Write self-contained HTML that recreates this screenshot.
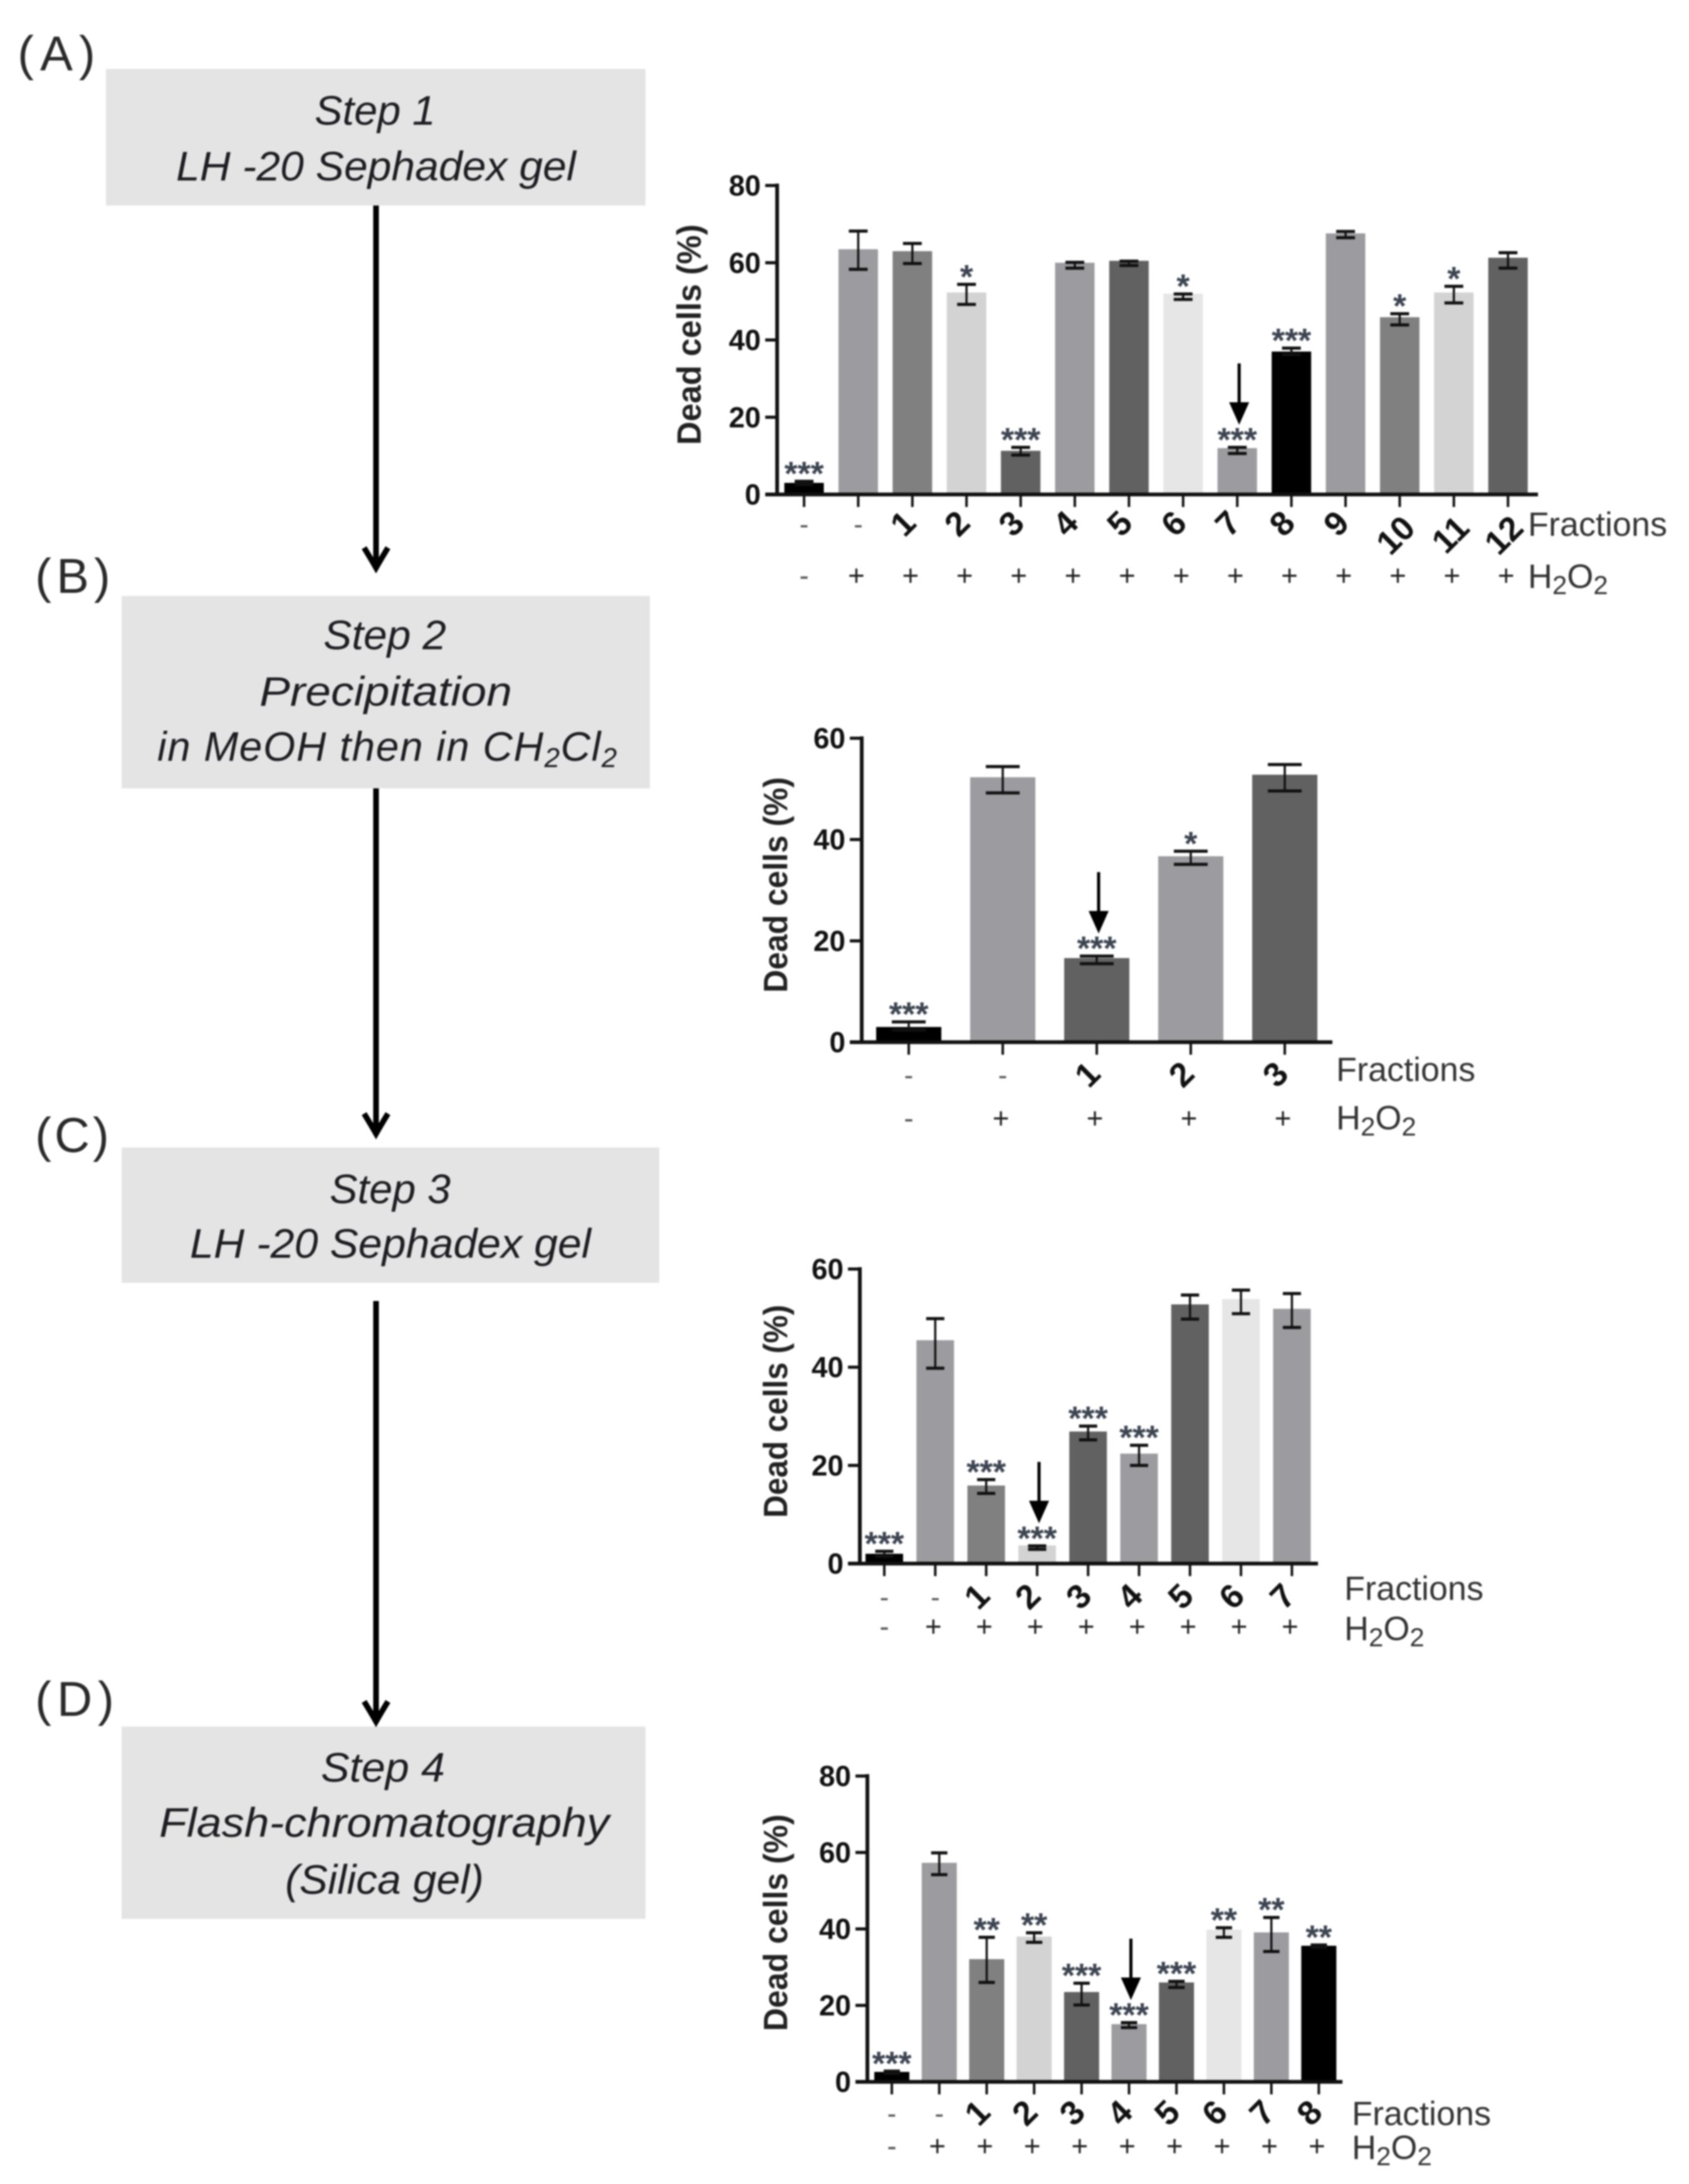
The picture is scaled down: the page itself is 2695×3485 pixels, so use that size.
<!DOCTYPE html>
<html lang="en">
<head>
<meta charset="utf-8">
<title>Bioguided fractionation steps and dead cell percentages</title>
<style>
html,body{margin:0;padding:0;background:#fff;width:2695px;height:3485px;overflow:hidden}
svg{display:block;filter:blur(1.4px)}
text{font-family:"Liberation Sans",sans-serif}
.step{font-style:italic;font-size:66px;fill:#1d1d22}
.panel{font-size:78px;fill:#2a2a2a}
</style>
</head>
<body>
<svg id="fig" xmlns="http://www.w3.org/2000/svg" width="2695" height="3485" viewBox="0 0 2695 3485">
<rect width="2695" height="3485" fill="#fff"/>

<g>
<text class="panel" x="28" y="112" textLength="124" lengthAdjust="spacing">(A)</text>
<text class="panel" x="56" y="946" textLength="120" lengthAdjust="spacing">(B)</text>
<text class="panel" x="56" y="1838" textLength="118" lengthAdjust="spacing">(C)</text>
<text class="panel" x="56" y="2738" textLength="126" lengthAdjust="spacing">(D)</text>

<rect x="169" y="110" width="861" height="218" fill="#e4e4e4"/>
<text class="step" x="502" y="199" textLength="193" lengthAdjust="spacingAndGlyphs">Step 1</text>
<text class="step" x="281" y="288" textLength="638" lengthAdjust="spacingAndGlyphs">LH -20 Sephadex gel</text>

<rect x="194" y="951" width="843" height="307" fill="#e4e4e4"/>
<text class="step" x="516" y="1036" textLength="196" lengthAdjust="spacingAndGlyphs">Step 2</text>
<text class="step" x="414" y="1126" textLength="403" lengthAdjust="spacingAndGlyphs">Precipitation</text>
<text class="step" x="251" y="1214" style="letter-spacing:1.5px">in MeOH then in CH<tspan font-size="44" dy="10">2</tspan><tspan dy="-10">Cl</tspan><tspan font-size="44" dy="10">2</tspan></text>

<rect x="194" y="1831" width="858" height="216" fill="#e4e4e4"/>
<text class="step" x="526" y="1920" textLength="193" lengthAdjust="spacingAndGlyphs">Step 3</text>
<text class="step" x="303" y="2007" textLength="640" lengthAdjust="spacingAndGlyphs">LH -20 Sephadex gel</text>

<rect x="194" y="2755" width="836" height="307" fill="#e4e4e4"/>
<text class="step" x="512" y="2843" textLength="198" lengthAdjust="spacingAndGlyphs">Step 4</text>
<text class="step" x="254" y="2931" textLength="718" lengthAdjust="spacingAndGlyphs">Flash-chromatography</text>
<text class="step" x="455" y="3022" textLength="317" lengthAdjust="spacingAndGlyphs">(Silica gel)</text>

<g fill="none" stroke="#000" stroke-width="9">
<path d="M600 328V908"/><path d="M581 874Q592 892 600 906Q608 892 619 874"/>
</g>
<g fill="none" stroke="#000" stroke-width="9">
<path d="M600 1258V1811"/><path d="M581 1777Q592 1795 600 1809Q608 1795 619 1777"/>
</g>
<g fill="none" stroke="#000" stroke-width="9">
<path d="M600 2076V2749"/><path d="M581 2715Q592 2733 600 2747Q608 2733 619 2715"/>
</g>
</g>
</svg>

<script>
// Shared axis title and row labels
const yAxisTitleText = 'Dead cells (%)';

// Chart A
const chartAFractions = ['-','-','1','2','3','4','5','6','7','8','9','10','11','12'];
const chartAPeroxide = ['-','+','+','+','+','+','+','+','+','+','+','+','+','+'];
const chartAValues = [3,63.5,63,52.3,11.3,60,60.5,52,12,37,67.6,45.9,52.3,61.3];
const chartAErrHigh = [3.4,68.2,65,54.4,12.2,60.1,60.4,51.9,12.2,37.9,68.1,46.8,53.9,62.6];
const chartAErrLow = [2.6,58.3,59.8,49.2,10.2,58.6,59.3,50.5,10.6,36.2,66.5,43.9,49.6,58.6];
const chartAStars = ['***','','','*','***','','','*','***','***','','*','*',''];
const chartAColors = ['#000','#9c9ca0','#808080','#d3d3d3','#616161','#9c9ca0','#616161','#e6e6e6','#9c9ca0','#000','#9c9ca0','#808080','#d3d3d3','#616161'];
const chartATicks = [0,20,40,60,80];

// Chart B
const chartBFractions = ['-','-','1','2','3'];
const chartBPeroxide = ['-','+','+','+','+'];
const chartBValues = [3,52.3,16.6,36.7,52.8];
const chartBErrHigh = [4,54.4,17,37.7,54.8];
const chartBErrLow = [2.4,49.2,15.5,35.1,49.6];
const chartBStars = ['***','','***','*',''];
const chartBColors = ['#000','#9c9ca0','#616161','#9c9ca0','#616161'];
const chartBTicks = [0,20,40,60];

// Chart C
const chartCFractions = ['-','-','1','2','3','4','5','6','7'];
const chartCPeroxide = ['-','+','+','+','+','+','+','+','+'];
const chartCValues = [2,45.5,15.9,3.7,26.9,22.4,52.8,53.9,51.9];
const chartCErrHigh = [2.5,49.9,17.1,3.6,28,24.1,54.7,55.7,55];
const chartCErrLow = [1.5,39.8,14.3,2.9,25.2,20,49.8,50.9,48.1];
const chartCStars = ['***','','***','***','***','***','','',''];
const chartCColors = ['#000','#9c9ca0','#808080','#d3d3d3','#616161','#9c9ca0','#616161','#e6e6e6','#9c9ca0'];
const chartCTicks = [0,20,40,60];

// Chart D
const chartDFractions = ['-','-','1','2','3','4','5','6','7','8'];
const chartDPeroxide = ['-','+','+','+','+','+','+','+','+','+'];
const chartDValues = [2.6,57.3,32.1,38,23.5,15.1,26,39.8,39.1,35.6];
const chartDErrHigh = [2.8,59.9,37.8,39,25.8,15.5,26.3,40.3,43,35.8];
const chartDErrLow = [2.2,54.2,26,36.5,20.1,14.2,24.7,37.8,34.1,35.2];
const chartDStars = ['***','','**','**','***','***','***','**','**','**'];
const chartDColors = ['#000','#9c9ca0','#808080','#d3d3d3','#616161','#9c9ca0','#616161','#e6e6e6','#9c9ca0','#000'];
const chartDTicks = [0,20,40,60,80];

const NS = 'http://www.w3.org/2000/svg';
const fig = document.getElementById('fig');

function mk(tag, parent) {
  const n = document.createElementNS(NS, tag);
  parent.appendChild(n);
  return n;
}
function setAll(n, props) {
  for (const k in props) n.setAttribute(k, props[k]);
}

function drawChart(name, d, g) {
  const root = mk('g', fig);
  
  

  const maxV = d.ticks[d.ticks.length - 1];
  const yScale = v => g.bottom - v / maxV * (g.bottom - g.top);
  const xScale = i => g.first + i * g.step;

  // bars
  d.values.forEach((v, i) => {
    const bar = mk('rect', root);
    setAll(bar, {x: xScale(i) - g.barW / 2, y: yScale(v), width: g.barW, height: g.bottom - yScale(v), fill: d.colors[i]});
    
    
  });

  // error bars
  d.values.forEach((v, i) => {
    const cx = xScale(i), yh = yScale(d.hi[i]), yl = yScale(d.lo[i]);
    const eb = mk('path', root);
    setAll(eb, {d: 'M' + cx + ' ' + yh + 'V' + yl, stroke: '#111', 'stroke-width': 3.5, fill: 'none'});
    
    
    const capTop = mk('path', root);
    setAll(capTop, {d: 'M' + (cx - g.capW / 2) + ' ' + yh + 'h' + g.capW, stroke: '#111', 'stroke-width': 5, fill: 'none'});
    
    
    const capLow = mk('path', root);
    setAll(capLow, {d: 'M' + (cx - g.capW / 2) + ' ' + yl + 'h' + g.capW, stroke: '#111', 'stroke-width': 5, fill: 'none'});
    
    
  });

  // significance stars
  d.stars.forEach((s, i) => {
    if (!s) return;
    const t = mk('text', root);
    setAll(t, {x: xScale(i), y: yScale(d.hi[i]) - 25 + 31, 'text-anchor': 'middle', 'font-size': 54, 'font-weight': 'bold', fill: '#3c4450'});
    t.textContent = s;
    
    
  });

  // selected fraction arrow, placed from the marked bar's value
  {
    const cx = xScale(d.arrowIndex) + 3;
    const tip = yScale(d.hi[d.arrowIndex]) - 36;
    const a = mk('path', root);
    setAll(a, {d: 'M' + cx + ' ' + (tip - 98) + 'V' + (tip - 30), stroke: '#000', 'stroke-width': 5, fill: 'none'});
    
    
    const h = mk('path', root);
    setAll(h, {d: 'M' + (cx - 16) + ' ' + (tip - 36) + 'h32L' + cx + ' ' + tip + 'Z', fill: '#000'});
    
    
  }

  // y axis
  const yAxis = mk('path', root);
  setAll(yAxis, {d: 'M' + g.axisX + ' ' + (g.top - 3) + 'V' + (g.bottom + 3), stroke: '#111', 'stroke-width': 6, fill: 'none'});
  
  

  d.ticks.forEach(v => {
    const y = yScale(v);
    const tk = mk('path', root);
    setAll(tk, {d: 'M' + (g.axisX - 19) + ' ' + y + 'H' + g.axisX, stroke: '#111', 'stroke-width': 5, fill: 'none'});
    
    
    const lb = mk('text', root);
    setAll(lb, {x: g.axisX - 26, y: y, 'text-anchor': 'end', 'dominant-baseline': 'central', 'font-size': 46, 'font-weight': 'bold', fill: '#111'});
    lb.textContent = v;
    
    
  });

  // x axis baseline
  const xAxis = mk('path', root);
  setAll(xAxis, {d: 'M' + (g.axisX - 19) + ' ' + g.bottom + 'H' + g.right, stroke: '#111', 'stroke-width': 6, fill: 'none'});
  
  

  // x ticks and fraction labels
  d.fractions.forEach((f, i) => {
    const cx = xScale(i);
    const tk = mk('path', root);
    setAll(tk, {d: 'M' + cx + ' ' + g.bottom + 'V' + (g.bottom + 20), stroke: '#111', 'stroke-width': 4, fill: 'none'});
    
    
    const lb = mk('text', root);
    if (f === '-') {
      setAll(lb, {x: cx, y: g.fracY + 9, 'text-anchor': 'middle', 'dominant-baseline': 'central', 'font-size': 44, fill: '#555'});
    } else {
      const ax = cx - (f.length > 1 ? -15 : 4), ay = g.fracY - (f.length > 1 ? -5 : 3);
      setAll(lb, {x: ax, y: ay, 'text-anchor': 'end', 'dominant-baseline': 'central', 'font-size': 54, 'font-weight': 'bold', fill: '#111', transform: 'rotate(-45 ' + ax + ' ' + ay + ')'});
    }
    lb.textContent = f;
    
    
  });

  // H2O2 row
  d.peroxide.forEach((p, i) => {
    const lb = mk('text', root);
    setAll(lb, {x: xScale(i) - (p === '+' ? 3 : 0), y: g.plusY, 'text-anchor': 'middle', 'dominant-baseline': 'central', 'font-size': 46, fill: p === '+' ? '#222' : '#555'});
    lb.textContent = p;
    
    
  });

  // row titles
  const ft = mk('text', root);
  setAll(ft, {x: g.rowX, y: g.fractionsY, 'dominant-baseline': 'central', 'font-size': 54, fill: '#333'});
  ft.textContent = 'Fractions';
  
  

  const ht = mk('text', root);
  setAll(ht, {x: g.rowX, y: g.peroxideY + 18, 'font-size': 54, fill: '#333'});
  
  
  ht.textContent = 'H';
  const s1 = mk('tspan', ht);
  setAll(s1, {dy: 10, 'font-size': 42});
  s1.textContent = '2';
  const s2 = mk('tspan', ht);
  setAll(s2, {dy: -10});
  s2.textContent = 'O';
  const s3 = mk('tspan', ht);
  setAll(s3, {dy: 10, 'font-size': 42});
  s3.textContent = '2';

  // y axis title
  const yt = mk('text', root);
  const midY = (g.titleTop + g.titleBottom) / 2;
  setAll(yt, {x: g.titleX, y: midY, 'text-anchor': 'middle', 'dominant-baseline': 'central', 'font-size': 54, 'font-weight': 'bold', fill: '#222',
    textLength: g.titleBottom - g.titleTop, lengthAdjust: 'spacingAndGlyphs', transform: 'rotate(-90 ' + g.titleX + ' ' + midY + ')'});
  yt.textContent = yAxisTitleText;
  
  
}

drawChart('chart-a-dead-cells',
  {fractions: chartAFractions, peroxide: chartAPeroxide, values: chartAValues, hi: chartAErrHigh, lo: chartAErrLow, stars: chartAStars, colors: chartAColors, ticks: chartATicks, arrowIndex: 8},
  {axisX: 1240, top: 296, bottom: 789, right: 2454, first: 1283, step: 86.4, barW: 63, capW: 30, fracY: 828, plusY: 918, rowX: 2438, fractionsY: 837, peroxideY: 920, titleX: 1100, titleTop: 358, titleBottom: 710});

drawChart('chart-b-dead-cells',
  {fractions: chartBFractions, peroxide: chartBPeroxide, values: chartBValues, hi: chartBErrHigh, lo: chartBErrLow, stars: chartBStars, colors: chartBColors, ticks: chartBTicks, arrowIndex: 2},
  {axisX: 1375, top: 1178, bottom: 1663, right: 2126, first: 1450, step: 150, barW: 104, capW: 54, fracY: 1707, plusY: 1784, rowX: 2132, fractionsY: 1707, peroxideY: 1784, titleX: 1238, titleTop: 1240, titleBottom: 1584});

drawChart('chart-c-dead-cells',
  {fractions: chartCFractions, peroxide: chartCPeroxide, values: chartCValues, hi: chartCErrHigh, lo: chartCErrLow, stars: chartCStars, colors: chartCColors, ticks: chartCTicks, arrowIndex: 3},
  {axisX: 1372, top: 2025, bottom: 2495, right: 2103, first: 1411, step: 81.3, barW: 60, capW: 29, fracY: 2540, plusY: 2595, rowX: 2145, fractionsY: 2535, peroxideY: 2599, titleX: 1238, titleTop: 2082, titleBottom: 2422});

drawChart('chart-d-dead-cells',
  {fractions: chartDFractions, peroxide: chartDPeroxide, values: chartDValues, hi: chartDErrHigh, lo: chartDErrLow, stars: chartDStars, colors: chartDColors, ticks: chartDTicks, arrowIndex: 5},
  {axisX: 1384, top: 2834, bottom: 3322, right: 2142, first: 1423, step: 75.7, barW: 56, capW: 26, fracY: 3364, plusY: 3424, rowX: 2157, fractionsY: 3373, peroxideY: 3427, titleX: 1238, titleTop: 2895, titleBottom: 3241});
</script>
</body>
</html>
